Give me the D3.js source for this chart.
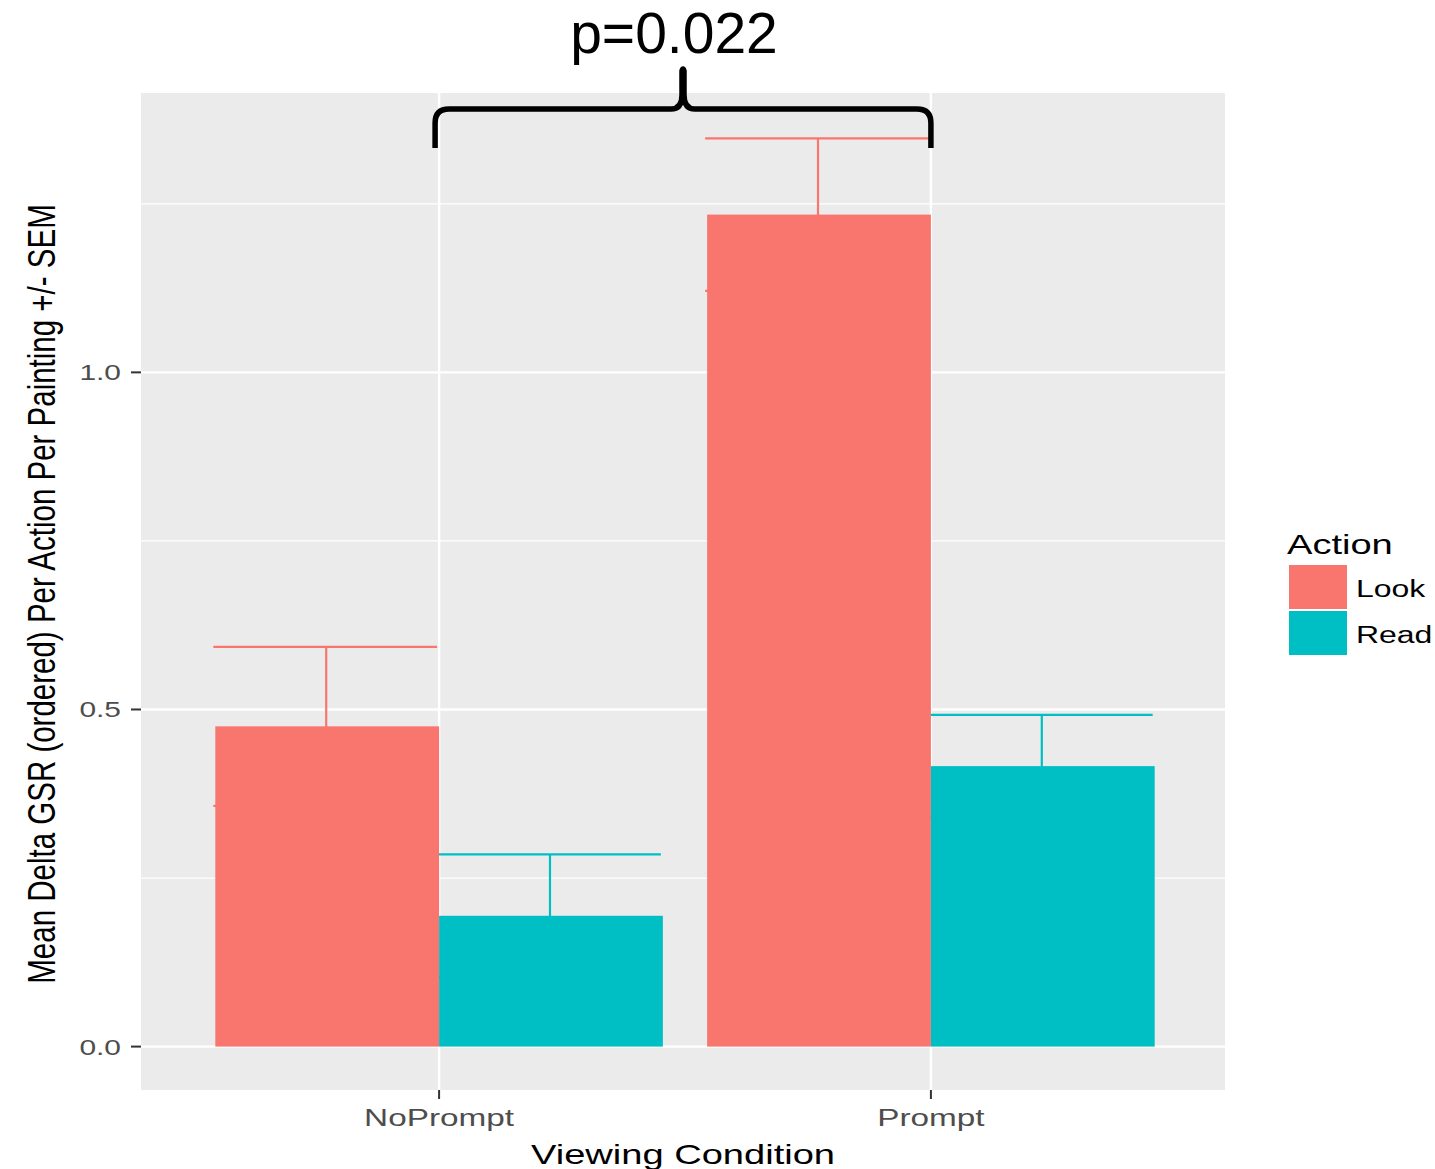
<!DOCTYPE html>
<html>
<head>
<meta charset="utf-8">
<script src="https://cdn.jsdelivr.net/npm/d3@7"></script>
<style>
  html, body { margin: 0; padding: 0; background: #ffffff; }
  svg { display: block; }
  text { font-family: "Liberation Sans", Arial, sans-serif; }
</style>
</head>
<body>
<div id="chart"></div>
<script>
// Mean delta GSR per action, by viewing condition (bars = mean, whiskers = ±SEM)
const categories = ["NoPrompt", "Prompt"];
const actions = ["Look", "Read"];
const lookMeans = [0.475, 1.234];
const lookSem = [0.118, 0.113];
const readMeans = [0.194, 0.416];
const readSem = [0.091, 0.076];
const actionColors = ["#F8766D", "#00BFC4"];
const yMajorTicks = [0, 0.5, 1.0];
const yMinorTicks = [0.25, 0.75, 1.25];
const yTickLabels = ["0.0", "0.5", "1.0"];
const xTitle = "Viewing Condition";
const yTitle = "Mean Delta GSR (ordered) Per Action Per Painting +/- SEM";
const legendTitle = "Action";
const pValueLabel = "p=0.022";

const W = 1435, H = 1169;
const panel = { left: 141, right: 1225, top: 93, bottom: 1090 };
const sx = 1.36; // horizontal glyph stretch of the plot text

const svg = d3.select("#chart").append("svg")
  .attr("width", W).attr("height", H);
svg.append("rect").attr("width", W).attr("height", H).attr("fill", "#ffffff");

// rows: one per category x action
const rows = [];
categories.forEach((c, i) => {
  rows.push({ cat: c, ci: i, action: actions[0], ai: 0, mean: lookMeans[i], sem: lookSem[i] });
  rows.push({ cat: c, ci: i, action: actions[1], ai: 1, mean: readMeans[i], sem: readSem[i] });
});

// discrete x positions 1..n with ggplot-style 0.6 expansion
const x = d3.scaleLinear()
  .domain([0.4, categories.length + 0.6])
  .range([panel.left + 3, panel.right + 1]);
const dodge = 0.91;
const barW = dodge / actions.length;
const barLeft = d => d.ci + 1 - dodge / 2 + d.ai * barW;

const yMax = d3.max(rows, d => d.mean + d.sem);
const pad = 0.05 * yMax;
const y = d3.scaleLinear().domain([-pad, yMax + pad]).range([panel.bottom + 2, panel.top]);

// panel background and grid
svg.append("rect")
  .attr("x", panel.left).attr("y", panel.top)
  .attr("width", panel.right - panel.left).attr("height", panel.bottom - panel.top)
  .attr("fill", "#EBEBEB");

const grid = svg.append("g");
grid.selectAll("line.minor").data(yMinorTicks).join("line")
  .attr("class", "minor")
  .attr("x1", panel.left).attr("x2", panel.right)
  .attr("y1", d => y(d)).attr("y2", d => y(d))
  .attr("stroke", "#ffffff").attr("stroke-width", 1.2);
grid.selectAll("line.major").data(yMajorTicks).join("line")
  .attr("class", "major")
  .attr("x1", panel.left).attr("x2", panel.right)
  .attr("y1", d => y(d)).attr("y2", d => y(d))
  .attr("stroke", "#ffffff").attr("stroke-width", 2.4);
grid.selectAll("line.vmajor").data(categories).join("line")
  .attr("class", "vmajor")
  .attr("x1", (d, i) => x(i + 1)).attr("x2", (d, i) => x(i + 1))
  .attr("y1", panel.top).attr("y2", panel.bottom)
  .attr("stroke", "#ffffff").attr("stroke-width", 2.4);

// error bars sit underneath the bars
const eb = svg.append("g").selectAll("g").data(rows).join("g")
  .attr("stroke", d => actionColors[d.ai]).attr("stroke-width", 2.2).attr("fill", "none");
eb.append("line")
  .attr("x1", d => x(barLeft(d) + barW / 2) - 1).attr("x2", d => x(barLeft(d) + barW / 2) - 1)
  .attr("y1", d => y(d.mean - d.sem)).attr("y2", d => y(d.mean + d.sem));
eb.append("line")
  .attr("x1", d => x(barLeft(d)) - 2).attr("x2", d => x(barLeft(d) + barW) - 2)
  .attr("y1", d => y(d.mean + d.sem)).attr("y2", d => y(d.mean + d.sem));
eb.append("line")
  .attr("x1", d => x(barLeft(d)) - 2).attr("x2", d => x(barLeft(d) + barW) - 2)
  .attr("y1", d => y(d.mean - d.sem)).attr("y2", d => y(d.mean - d.sem));

// bars
svg.append("g").selectAll("rect").data(rows).join("rect")
  .attr("x", d => x(barLeft(d)))
  .attr("width", d => x(barLeft(d) + barW) - x(barLeft(d)))
  .attr("y", d => y(d.mean))
  .attr("height", d => y(0) - y(d.mean))
  .attr("fill", d => actionColors[d.ai]);

// stretched text helper
function stext(g, tx, ty, str, opts) {
  const t = g.append("text")
    .attr("transform", `translate(${tx},${ty}) scale(${opts.sx || sx},1)` + (opts.rotate ? ` rotate(${opts.rotate})` : ""))
    .attr("font-size", opts.size)
    .attr("fill", opts.fill || "#000")
    .attr("text-anchor", opts.anchor || "start")
    .text(str);
  return t;
}

// y axis: ticks and labels
const yAxis = svg.append("g");
yMajorTicks.forEach((v, i) => {
  yAxis.append("line")
    .attr("x1", panel.left - 10).attr("x2", panel.left)
    .attr("y1", y(v)).attr("y2", y(v))
    .attr("stroke", "#333333").attr("stroke-width", 2);
  stext(yAxis, panel.left - 20, y(v) + 8, yTickLabels[i], { size: 22, fill: "#4D4D4D", anchor: "end" });
});

// x axis: ticks and labels
const xAxis = svg.append("g");
categories.forEach((c, i) => {
  xAxis.append("line")
    .attr("x1", x(i + 1)).attr("x2", x(i + 1))
    .attr("y1", panel.bottom).attr("y2", panel.bottom + 9)
    .attr("stroke", "#333333").attr("stroke-width", 2);
  stext(xAxis, x(i + 1), panel.bottom + 36, c, { size: 24.5, fill: "#4D4D4D", anchor: "middle" });
});

// axis titles
stext(svg, (panel.left + panel.right) / 2, 1164, xTitle, { size: 28, anchor: "middle" });
stext(svg, 55, 594, yTitle, { size: 29.5, anchor: "middle", rotate: -90, sx: 1.3 });

// legend
const legend = svg.append("g");
stext(legend, 1287, 554, legendTitle, { size: 28 });
actions.forEach((a, i) => {
  legend.append("rect")
    .attr("x", 1289).attr("y", 565 + i * 46)
    .attr("width", 58).attr("height", 44)
    .attr("fill", actionColors[i]);
  stext(legend, 1356, 597 + i * 46, a, { size: 23.5 });
});

// significance brace between the two Look bars
const bx0 = x(1) - 4, bx1 = x(2), bxm = (bx0 + bx1) / 2;
const yBottom = 148, yBar = 109, yTip = 68, r = 14;
const brace = d3.path();
brace.moveTo(bx0, yBottom);
brace.lineTo(bx0, yBar + r);
brace.quadraticCurveTo(bx0, yBar, bx0 + r, yBar);
brace.lineTo(bxm - 12, yBar);
brace.quadraticCurveTo(bxm - 1, yBar, bxm - 1, yBar - 14);
brace.lineTo(bxm - 1, yTip + 3);
brace.quadraticCurveTo(bxm, yTip - 1, bxm + 1, yTip + 3);
brace.lineTo(bxm + 1, yBar - 14);
brace.quadraticCurveTo(bxm + 1, yBar, bxm + 12, yBar);
brace.lineTo(bx1 - r, yBar);
brace.quadraticCurveTo(bx1, yBar, bx1, yBar + r);
brace.lineTo(bx1, yBottom);
svg.append("path").attr("d", brace.toString())
  .attr("fill", "none").attr("stroke", "#000").attr("stroke-width", 5.5)
  .attr("stroke-linejoin", "round");

svg.append("text")
  .attr("x", 674).attr("y", 53)
  .attr("text-anchor", "middle").attr("font-size", 57).attr("fill", "#000")
  .text(pValueLabel);
</script>
</body>
</html>
